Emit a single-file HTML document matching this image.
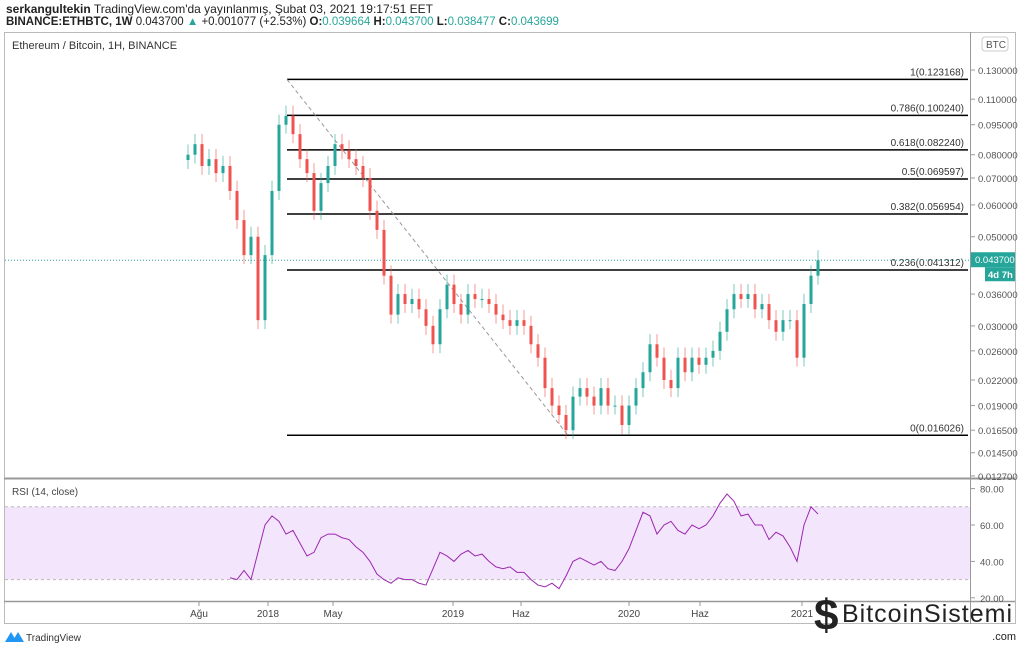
<!DOCTYPE html>
<html><head><meta charset="utf-8"><style>
body{margin:0;background:#fff;font-family:"Liberation Sans",sans-serif;}
#wrap{position:relative;width:1024px;height:651px;overflow:hidden;}
.t{position:absolute;white-space:nowrap;}
</style></head><body>
<div id="wrap">
<div class="t" style="left:6px;top:2px;font-size:12px;color:#222"><b>serkangultekin</b> TradingView.com'da yayınlanmış, Şubat 03, 2021 19:17:51 EET</div>
<div class="t" style="left:6px;top:16px;font-size:11.5px;color:#222"><b>BINANCE:ETHBTC, 1W</b> 0.043700 <span style="color:#26a69a">▲</span> +0.001077 (+2.53%) <b>O:</b><span style="color:#26a69a">0.039664</span> <b>H:</b><span style="color:#26a69a">0.043700</span> <b>L:</b><span style="color:#26a69a">0.038477</span> <b>C:</b><span style="color:#26a69a">0.043699</span></div>
<svg id="svg" width="1024" height="651" style="position:absolute;left:0;top:0"></svg>
</div>
<script>
const closes=[0.080,0.085,0.075,0.078,0.072,0.075,0.065,0.055,0.045,0.050,0.031,0.045,0.065,0.095,0.100,0.090,0.078,0.072,0.058,0.068,0.075,0.085,0.082,0.078,0.075,0.070,0.058,0.052,0.040,0.032,0.036,0.034,0.035,0.033,0.030,0.027,0.033,0.038,0.034,0.032,0.036,0.035,0.035,0.034,0.032,0.031,0.030,0.031,0.030,0.027,0.025,0.021,0.019,0.018,0.0165,0.020,0.021,0.020,0.019,0.021,0.019,0.019,0.017,0.019,0.021,0.023,0.027,0.025,0.022,0.021,0.025,0.023,0.025,0.024,0.025,0.026,0.029,0.033,0.036,0.035,0.036,0.033,0.034,0.031,0.029,0.031,0.031,0.025,0.034,0.040,0.0437];
const rsiStart=6;
const rsi=[31,30,35,30,45,60,65,62,55,57,50,43,45,53,55,55,53,52,48,45,40,33,30,28,31,30,30,28,27,36,45,43,40,44,46,43,44,40,37,36,37,34,34,30,27,26,28,25,32,40,42,40,38,40,36,35,40,47,57,67,65,55,60,62,57,55,60,58,60,65,72,77,73,65,66,60,60,52,56,54,48,40,60,70,66];
const priceTicks=[0.13,0.11,0.095,0.08,0.07,0.06,0.05,0.036,0.03,0.026,0.022,0.019,0.0165,0.0145,0.0127];
const rsiTicks=[80,60,40,20];
const fibLevels=[["1",0.123168],["0.786",0.100240],["0.618",0.082240],["0.5",0.069597],["0.382",0.056954],["0.236",0.041312],["0",0.016026]];
const timeLabels=[["Ağu",199],["2018",268],["May",333],["2019",453],["Haz",521],["2020",629],["Haz",700],["2021",802]];
const NS="http://www.w3.org/2000/svg",svg=document.getElementById('svg');
function mk(t,a,p){const e=document.createElementNS(NS,t);for(const k in a)e.setAttribute(k,a[k]);(p||svg).appendChild(e);return e;}
const yP=v=>70+(Math.log(0.13)-Math.log(v))*174.5;
const xI=i=>188+7*i;
const yR=v=>525-(v-60)*1.82;
let e=mk('rect',{x:4.5,y:32.5,width:1011,height:591,fill:'none',stroke:'#bbb'});

mk('line',{x1:970.5,y1:32,x2:970.5,y2:624,stroke:'#999'});
mk('line',{x1:4,y1:478.5,x2:1015,y2:478.5,stroke:'#999','stroke-width':2});
mk('line',{x1:4,y1:601.5,x2:1015,y2:601.5,stroke:'#999','stroke-width':1.5});
e=mk('text',{x:12,y:49,'font-size':'11','fill':'#333'});e.textContent='Ethereum / Bitcoin, 1H, BINANCE';

priceTicks.forEach(v=>{const y=yP(v);mk('line',{x1:970,x2:975,y1:y,y2:y,stroke:'#999'});
 const t=mk('text',{x:978,y:y+4,'font-size':'9.5',fill:'#555'});t.textContent=v.toFixed(6);
 });
e=mk('rect',{x:982,y:37,width:26,height:14,rx:3,fill:'#fff',stroke:'#ccc'});
e=mk('text',{x:986,y:48,'font-size':'10',fill:'#555'});e.textContent='BTC';

fibLevels.forEach(([l,v])=>{const y=yP(v);
 e=mk('line',{x1:287,x2:968,y1:y,y2:y,stroke:'#000','stroke-width':1.5});
 
 const t=mk('text',{x:964,y:y-4,'font-size':'10',fill:'#333','text-anchor':'end'});t.textContent=l+'('+v.toFixed(6)+')';
 });
e=mk('line',{x1:287,y1:yP(0.123168),x2:568,y2:yP(0.016026),stroke:'#999','stroke-dasharray':'4,3'});

const lastY=yP(closes[closes.length-1]);
mk('line',{x1:5,x2:970,y1:lastY,y2:lastY,stroke:'#26a69a','stroke-dasharray':'1,2'});
closes.forEach((c,i)=>{const o=i?closes[i-1]:c*0.97;const up=c>=o;const col=up?'#26a69a':'#ef5350';
 const hi=Math.max(o,c)*1.06,lo=Math.min(o,c)*0.95;const x=xI(i);
 mk('line',{x1:x,x2:x,y1:yP(hi),y2:yP(lo),stroke:col,'stroke-opacity':0.6});
 const y1=yP(Math.max(o,c)),y2=yP(Math.min(o,c));
 const r=mk('rect',{x:x-1.5,y:y1,width:3,height:Math.max(1,y2-y1),fill:col});
 });
e=mk('rect',{x:971,y:lastY-8,width:44,height:15,fill:'#26a69a'});
e=mk('text',{x:975,y:lastY+3,'font-size':'9.5',fill:'#fff'});e.textContent=closes[closes.length-1].toFixed(6);

e=mk('rect',{x:985,y:lastY+7,width:30,height:14,fill:'#26a69a'});
e=mk('text',{x:988,y:lastY+18,'font-size':'9.5',fill:'#fff','font-weight':'bold'});e.textContent='4d 7h';

e=mk('rect',{x:5,y:yR(70),width:965,height:yR(30)-yR(70),fill:'#f3e5fc'});

[70,30].forEach(v=>mk('line',{x1:5,x2:970,y1:yR(v),y2:yR(v),stroke:'#bbb','stroke-dasharray':'3,3'}));
rsiTicks.forEach(v=>{const y=yR(v);mk('line',{x1:970,x2:975,y1:y,y2:y,stroke:'#999'});
 const t=mk('text',{x:980,y:y+4,'font-size':'9.5',fill:'#555'});t.textContent=v.toFixed(2);
 });
e=mk('polyline',{points:rsi.map((v,k)=>xI(k+rsiStart)+','+yR(v)).join(' '),fill:'none',stroke:'#9c27b0','stroke-width':1});

e=mk('text',{x:12,y:495,'font-size':'10',fill:'#444'});e.textContent='RSI (14, close)';

timeLabels.forEach(([l,x])=>{mk('line',{x1:x,x2:x,y1:602,y2:606,stroke:'#999'});
 const t=mk('text',{x:x,y:617,'font-size':'10',fill:'#444','text-anchor':'middle'});t.textContent=l;
 });
e=mk('path',{d:'M5 642 L11 632 L17 642 Z M12 642 L18 632 L24 642 Z',fill:'#2196f3'});
e=mk('text',{x:26,y:641,'font-size':'10',fill:'#333'});e.textContent='TradingView';

e=mk('text',{x:814,y:630,'font-size':'44',fill:'#222','font-weight':'bold'});e.textContent='$';
e=mk('text',{x:842,y:622,'font-size':'25',fill:'#222','textLength':170});e.textContent='BitcoinSistemi';

e=mk('text',{x:1016,y:640,'font-size':'11',fill:'#222','text-anchor':'end'});e.textContent='.com';
</script>
</body></html>
